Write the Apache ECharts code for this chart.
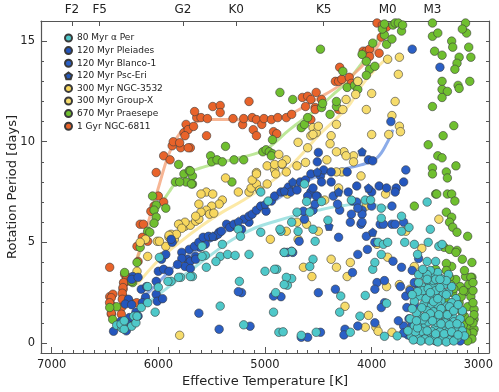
<!DOCTYPE html>
<html>
<head>
<meta charset="utf-8">
<script src="https://cdn.jsdelivr.net/npm/echarts@6/dist/echarts.min.js"></script>
<style>
  html, body { margin: 0; padding: 0; background: #fff; }
  #main { width: 499px; height: 392px; }
</style>
</head>
<body>
<div id="main"></div>
<script>
// spectral types on the top axis
const spTypes = ["F2", "F5", "G2", "K0", "K5", "M0", "M3"];
const spTeff = [6810, 6550, 5770, 5270, 4450, 3850, 3430];

const xTicks = [3000, 4000, 5000, 6000, 7000];
const yTicks = [0, 5, 10, 15];

const names = ["80 Myr α Per", "120 Myr Pleiades", "120 Myr Blanco-1", "120 Myr Psc-Eri",
  "300 Myr NGC-3532", "300 Myr Group-X", "670 Myr Praesepe", "1 Gyr NGC-6811"];

// [Teff, Prot]
const ngc6811 = [[6456,3.76],[6456,2.3],[6440,1.9],[6440,1.43],[6344,1.77],[6330,2.3],[6330,2.67],[6320,2.96],[6300,3.3],[6280,3.16],[6260,2.0],[6203,2.0],[6200,4.8],[6190,4.05],[6150,5.25],[6170,5.9],[6140,5.9],[6100,5.05],[6070,6.54],[6040,6.8],[6000,7.3],[5950,7.0],[6020,8.47],[5950,9.3],[5890,9.1],[5870,9.8],[5860,10.0],[5760,10.45],[5740,10.86],[5720,10.6],[5670,10.76],[5640,11.2],[5660,11.5],[5600,11.2],[5700,9.7],[5790,9.7],[5750,10.3],[5720,9.7],[5800,9.95],[5548,10.3],[5540,11.15],[5490,11.75],[5420,11.8],[5420,11.45],[5300,11.15],[5210,10.85],[5200,11.15],[5150,12.0],[5120,11.2],[5080,11.1],[5030,10.86],[5010,11.15],[5110,10.6],[5080,10.3],[4940,11.1],[4920,10.5],[4890,10.4],[4880,11.2],[4800,11.2],[4750,11.36],[4650,12.2],[4620,11.75],[4600,12.26],[4570,12.1],[4530,11.7],[4530,11.6],[4520,12.45],[4470,12.1],[4570,11.1],[4310,11.6],[4340,13.0],[4310,13.0],[4280,13.1],[4210,13.2],[4190,12.9],[4300,13.7],[4080,14.5],[4050,14.5],[4020,14.6],[4020,14.24],[3930,14.4],[3910,15.2],[3950,15.9],[3900,15.8],[3860,15.7],[6316,3.41],[6295,3.25],[6270,3.08],[6326,3.0],[6332,2.75],[6338,2.47],[6426,2.42],[6441,2.25],[6338,2.17],[6457,2.0],[6441,1.48],[6347,1.43]];

const praesepe = [[6316,3.5],[6240,3.0],[6390,1.8],[6428,1.17],[6456,1.76],[6250,3.06],[6054,7.3],[6020,6.85],[6040,6.6],[6020,6.25],[6040,5.95],[6100,5.55],[6080,5.5],[6170,4.75],[6200,4.0],[5930,6.7],[5810,8.87],[5760,8.4],[5710,8.57],[5680,8.3],[5740,8.0],[5840,8.0],[5680,7.9],[5800,8.0],[5700,8.55],[5690,7.9],[5370,9.77],[5510,9.3],[5500,9.0],[5450,9.1],[5400,9.0],[5290,9.1],[5200,9.1],[5310,8.0],[5020,9.5],[4990,9.6],[4930,10.1],[4960,9.5],[4930,9.4],[4940,9.3],[4860,12.45],[4740,12.1],[4660,10.7],[4630,10.86],[4600,11.2],[4470,11.7],[4460,11.9],[4390,11.36],[4330,11.75],[4330,12.0],[4270,13.5],[4230,12.7],[4160,12.8],[4130,13.0],[4130,12.6],[4090,14.34],[4050,14.0],[4020,13.6],[3970,13.75],[4050,13.3],[3990,14.9],[3880,15.3],[3860,14.84],[3810,15.1],[3900,15.6],[3880,15.85],[3800,15.8],[3780,15.9],[3750,15.9],[3720,15.5],[3710,15.8],[4480,14.6],
  [3430,15.24],[3380,15.4],[3410,14.5],[3340,14.3],[3250,15.0],[3240,14.7],[3180,14.2],[3200,13.9],[3220,13.6],[3340,13.0],[3340,12.6],[3290,12.5],[3340,12.2],[3190,12.8],[3180,12.65],[3430,11.75],[3230,10.8],[3330,10.3],[3470,9.85],[3380,9.3],[3340,9.2],[3210,8.8],[3430,8.7],[3430,8.4],[3300,8.5],[3290,8.2],[3400,7.4],[3290,7.4],[3390,7.4],[3250,7.4],[3220,7.05],[3600,6.8],[3300,6.5],[3250,6.25],[3270,6.0],[3240,5.75],[3200,5.5],[3100,5.3],[3320,4.75],[3270,4.65],[3200,4.6],[3210,4.5],[3150,4.16],[3400,3.66],[3250,3.8],[3300,3.95],[3060,3.26],[3120,3.3],[3430,15.9],[3120,15.9],[3110,15.4],[3090,14.7],[3150,15.6],[3070,14.2],[3080,13.0],
  [3210,3.15],[3070,3.26],[3170,2.8],[3120,2.56],[3240,2.5],[3070,2.3],[3180,2.0],[3100,1.8],[3040,1.67],[3130,1.33],[3040,1.18],[3100,0.84],[3040,0.68],[3170,0.53],[3070,0.33],[3400,1.0],[3370,0.6],[3230,0.18],[3270,3.26],[3260,2.9],[3230,2.7],[3050,2.0],[3050,1.0],[3050,0.5],[3150,1.5],[3200,1.1],[3140,0.9],[3180,0.4],[3090,2.9],[3050,2.6],[3160,2.3],[3280,1.6],[3260,1.2],[3220,0.8],[3060,0.2],[3100,0.1],[3300,2.1],[3050,3.0],[3130,3.6],[3060,4.0],[3040,1.4],[3080,1.1],[3110,0.5],[3200,1.7],[3250,0.5],[3140,2.6],[3300,3.6]];

const ngc3532 = [[5800,5.9],[5750,5.8],[5700,5.85],[5650,6.05],[5620,6.15],[5880,5.4],[5900,5.25],[5850,5.15],[6010,5.05],[5930,4.8],[6100,4.3],[6200,3.56],[6120,5.15],[6170,5.0],[5550,7.5],[5370,8.2],[5600,7.4],[5490,7.4],[5400,7.1],[5430,6.9],[5500,6.8],[5550,6.6],[5600,6.5],[5650,6.3],[5520,6.4],[5480,6.45],[5620,6.9],[5750,6.0],[5810,5.9],[5780,5.7],[5830,5.4],[5900,5.35],[5990,5.05],[5960,4.3],[5250,7.5],[5150,7.5],[5130,7.7],[5080,7.9],[5050,7.6],[4980,7.9],[5120,8.1],[5080,8.4],[4980,8.8],[4910,8.87],[4840,8.9],[4900,8.4],[4800,8.5],[4700,8.8],[4950,5.15],[4640,3.76],[4800,5.55],[4560,3.3]];

const groupX = [[5080,8.47],[4910,8.6],[4840,8.87],[4870,9.37],[4800,9.1],[4690,9.97],[4600,9.7],[4550,10.7],[4520,10.45],[4570,10.3],[4500,10.77],[4380,10.3],[4330,10.86],[4270,11.6],[4240,12.1],[4150,12.35],[4130,13.0],[4050,11.6],[4000,12.4],[3850,14.1],[3740,14.2],[3750,13.35],[3780,12.0],[3810,11.3],[3740,10.77],[3730,10.5],[3840,10.36],[4100,8.3],[4170,9.3],[4260,9.5],[4280,8.5],[4390,9.9],[4330,9.5],[4420,9.1],[4240,9.3],[4170,9.0],[4330,8.5],[4000,10.36],[4550,10.36],[4620,8.97],[4310,7.7],[4440,7.1],[4050,6.8],[3870,7.4],[3680,5.55],[4610,5.9],[4790,7.4],[4700,6.0],[4500,5.55],[4690,5.15],[4380,4.16],[4330,3.76],[4200,4.0],[4230,3.3],[4250,1.82],[4030,1.37],[4060,0.78],[3860,2.8],[3950,4.9],[3850,4.26],[3600,3.8],[3640,2.67],[3530,4.7],[3450,3.56],[3370,6.15],[3960,0.78],[3810,0.53],[5800,0.38],[3740,2.9],[3940,0.58]];

const pleiades = [[6240,3.3],[6280,2.17],[6310,1.93],[6250,1.9],[6260,1.13],[6350,0.93],[6420,0.58],[6300,0.6],[6250,3.16],[6190,3.26],[6160,2.67],[6110,2.8],[6020,3.06],[6000,3.56],[5950,3.66],[5970,4.16],[5930,4.4],[5870,5.0],[5780,4.5],[5730,4.16],[5700,4.06],[5650,4.3],[5610,4.75],[5560,4.9],[5510,5.25],[5470,5.3],[5430,5.5],[5310,5.8],[5220,5.65],[5150,6.0],[6020,2.42],[6010,2.07],[5960,2.2],[6120,2.27],[6150,2.0],[6210,1.53],[6190,1.33],[6270,1.26],[6350,1.08],[6300,1.0],[5880,5.15],[5710,4.65],[5660,4.8],[5620,5.0],[5580,5.25],[5530,5.3],[5440,5.4],[5410,5.55],[5360,5.9],[5330,5.74],[5290,5.9],[5200,6.15],[5150,6.3],[5120,6.4],[5080,6.6],[5040,6.8],[4990,6.55],[4940,7.05],[4910,7.3],[4850,7.5],[4780,7.75],[4670,8.0],[4620,8.1],[4570,8.4],[4480,8.3],[4450,8.6],[4380,8.5],[4570,7.5],[4520,7.3],[4760,7.5],[4700,7.6],[5650,4.16],[5780,4.2],[5750,3.8],[5700,3.7],[5820,3.9],[5900,3.56],[4500,9.47],[4510,9.0],[4230,8.5],[4030,9.1],[3990,9.05],[4380,8.0],[4470,8.0],[4550,7.7],[4600,7.3],[4220,7.5],[4140,7.8],[4000,7.5],[3930,7.8],[3860,7.7],[3770,7.7],[3780,7.5],[3700,8.0]];

const blanco1 = [[5620,1.48],[5430,0.68],[5220,2.5],[5140,0.83],[4680,5.05],[4630,6.15],[4550,6.6],[4790,4.5],[4740,4.5],[5250,2.55],[4850,2.3],[4500,2.5],[3680,8.6],[3820,11.0],[3620,14.6],[3360,13.7],[4180,7.05],[4140,7.0],[4090,6.6],[4090,6.4],[4130,6.7],[4000,6.8],[3810,6.8],[4300,6.6],[4200,6.0],[4100,5.9],[3920,5.9],[3810,5.9],[4640,6.55],[4820,4.5],[4750,4.55],[4920,2.33],[4510,7.3],[4530,6.9],[4360,7.3],[4320,6.9],[4310,5.25],[4190,6.4],[4090,6.0],[3890,5.9],[3780,5.9],[4050,5.3],[4130,4.4],[4040,4.65],[3970,5.0],[3950,3.0],[3970,2.67],[3880,3.1],[3800,4.06],[3720,3.76],[3730,2.8],[3680,2.33],[3670,1.76],[3700,0.84],[3880,2.0],[3910,1.76],[3970,1.0],[4180,3.5],[4660,0.28],[4600,0.28],[4480,0.53],[4250,0.68],[4260,0.4],[4130,0.84],[4340,2.67],[3700,6.0],[3650,1.2],[3660,0.4],[3620,0.9],[3600,1.9],[3640,2.6],[3700,0.5],[3570,2.9],[3580,0.2],[3400,0.1],[3170,0.1],[3600,3.0],[3750,1.1],[3620,3.6],[3560,4.2]];

const pscEri = [[5250,6.04],[5000,6.9],[4740,8.0],[4510,8.5],[4310,7.5],[4030,7.7],[4400,5.8],[3990,5.5],[5490,5.3],[4820,7.55],[4090,9.5]];

const aPer = [[3460,3.0],[3480,2.42],[3400,2.33],[3510,1.93],[3440,1.83],[3370,1.67],[3300,1.83],[3550,1.33],[3460,1.33],[3380,1.26],[3300,1.18],[3240,1.3],[3500,0.84],[3400,0.78],[3320,0.78],[3240,0.78],[3550,0.33],[3460,0.33],[3390,0.28],[3310,0.33],[3240,0.33],[3170,0.84],[3600,0.84],[3630,0.33],[3580,1.5],[3550,2.33],[3530,2.8],[3420,2.85],[3600,2.07],[3350,2.1],[3280,2.5],[3320,2.9],[3520,2.6],[3440,2.15],[3380,1.9],[3480,1.6],[3420,1.55],[3340,1.45],[3260,1.55],[3560,1.05],[3470,1.05],[3390,1.02],[3310,1.0],[3230,1.05],[3530,0.58],[3440,0.58],[3360,0.55],[3280,0.55],[3200,0.58],[3590,0.55],[3500,0.2],[3420,0.15],[3340,0.15],[3270,0.15],[3200,0.25],[3150,0.6],[3170,1.2],[3210,2.2],[3250,2.0],[3410,3.3],[3350,3.2],[3500,3.3],[3560,3.0],[3640,1.2],[3620,1.7],[3660,0.6],[3150,1.6],[3130,0.35],[3280,3.4],[3380,3.5],[3450,3.6],[3330,2.5],[3470,2.7],[3520,3.6],[3400,2.6],
  [3570,2.55],[3490,2.2],[3420,2.05],[3350,1.7],[3270,1.8],[3530,1.75],[3450,1.45],[3370,1.4],[3290,1.4],[3520,1.15],[3430,1.1],[3350,0.95],[3270,0.9],[3200,0.95],[3570,0.75],[3480,0.6],[3400,0.45],[3320,0.45],[3250,0.55],[3540,0.1],[3460,0.1],[3380,0.05],[3300,0.05],[3230,0.1],[3610,0.15],[3580,1.1],[3500,1.3],[3450,2.5],[3380,2.2],[3300,2.4],[3250,2.8],[3360,2.75],[3420,3.1],[3480,3.4],[3560,3.4],[3300,3.1],[3230,1.6],[3190,1.9],[3190,0.4],[3620,2.4],
  [3720,6.3],[3480,7.0],[3450,5.65],[3470,5.0],[3600,4.9],[3570,4.4],[3370,4.8],[3340,4.9],[3480,4.05],[3400,4.05],[3520,3.66],[3480,3.16],[3400,3.16],[3360,3.16],[3690,5.0],[3720,5.55],[3650,5.74],
  [5000,3.56],[4890,3.66],[4920,1.53],[4790,2.87],[4750,3.2],[4870,0.53],[4830,0.55],[4660,0.38],[4520,0.53],[4300,1.53],[4290,2.33],[4200,0.53],[4110,1.33],[4060,2.36],[3990,3.66],[3970,4.0],[3940,5.0],[3890,4.9],[3850,5.0],[3910,4.4],[3860,1.97],[3880,0.33],[3760,0.35],[4060,7.1],[4010,7.1],[4750,6.0],[4850,5.55],
  [5040,7.5],[4970,7.05],[5250,5.65],[5230,5.3],[5040,5.5],[5420,4.3],[5350,4.4],[5280,4.35],[5150,4.4],[5560,4.35],[5460,4.05],[5680,3.3],[5790,3.26],[5880,3.06],[5590,4.8],[5400,4.9],[4860,5.65],[4550,5.65],[4470,7.03],[4580,6.5],[4530,5.05],[4550,4.16],[4580,3.8],[4750,4.55],[4820,4.5],[4910,3.66],[4800,3.26],[4820,2.9],[4900,2.5],[4630,7.9],[4610,7.03],[4190,7.1],[4700,6.5],[4410,6.1],[4690,5.55],[3910,6.7],[3910,6.2],
  [5990,4.25],[6100,2.8],[5810,3.26],[5700,3.3],[5590,4.3],[6390,0.88],[6340,0.73],[6330,0.98],[6250,0.83],[6230,1.33],[6350,0.93],[6320,0.68],[6320,1.1],[6210,1.0],[6200,1.33],[6160,1.76],[6100,2.0],[6030,1.53],[6000,2.77],[5910,3.06],[5550,3.76],[5240,3.06],[5420,1.83],[5200,0.9]];

// gyrochrone sequences
const aPerCurve = [[6100,2.0],[5900,2.8],[5700,3.6],[5500,4.4],[5300,5.15],[5100,5.7],[4900,6.05],[4700,6.35],[4500,6.6],[4300,6.8],[4100,6.9],[3950,6.85],[3800,6.65]];
const pleiadesCurve = [[6150,2.2],[6000,3.0],[5850,3.8],[5700,4.4],[5500,5.1],[5300,5.8],[5100,6.5],[4900,7.1],[4700,7.8],[4500,8.3],[4300,8.6],[4100,8.85],[3950,9.2],[3850,10.0],[3800,10.6]];
const ngc3532Curve = [[6200,2.9],[6000,4.1],[5800,5.0],[5600,5.8],[5400,6.5],[5200,7.1],[5000,7.8],[4800,8.6],[4650,9.4],[4500,10.3],[4340,11.1],[4200,11.9],[4100,12.75],[4000,13.4],[3870,14.1]];
const praesepeCurve = [[6200,4.15],[6100,5.5],[6020,6.5],[5900,7.5],[5830,8.0],[5700,8.5],[5570,8.75],[5400,9.0],[5200,9.25],[5000,9.6],[4770,10.6],[4520,11.6],[4350,12.4],[4210,13.1],[4000,14.6],[3870,15.8]];
const ngc6811Curve = [[6200,4.2],[6100,5.9],[6000,7.7],[5900,9.4],[5800,10.4],[5700,10.8],[5550,11.1],[5300,11.1],[5100,11.05],[4900,11.15],[4770,11.35],[4520,12.1],[4300,12.8],[4100,13.7],[3950,14.7],[3860,15.6]];

const minorX = [];
for (let t = 2900; t <= 7100; t += 100) minorX.push(t);
const minorY = [];
for (let p = 0; p <= 16; p += 1) minorY.push(p);

const font = "DejaVu Sans";
const axisCol = "#555";
const pentagon = "path://M0,-1L0.951,-0.309L0.588,0.809L-0.588,0.809L-0.951,-0.309Z";

const main = document.getElementById("main");
const myChart = echarts.init(main);

function dots(name, data, color, symbol) {
  return {
    name: name,
    type: "scatter",
    data: data,
    symbol: symbol || "circle",
    symbolSize: 8.5,
    itemStyle: { color: color, borderColor: "#3a3a3a", borderWidth: 0.6, opacity: 1 },
    z: 3
  };
}
function curve(data, color) {
  return {
    type: "line",
    data: data,
    smooth: 0.4,
    symbol: "none",
    lineStyle: { color: color, width: 3, opacity: 0.8 },
    silent: true,
    z: 2
  };
}

const xBase = { type: "value", min: 2900, max: 7100, inverse: true, splitLine: { show: false } };
const yBase = { type: "value", min: -0.5, max: 16, splitLine: { show: false } };

const option = {
  backgroundColor: "#fff",
  animation: false,
  textStyle: { fontFamily: font },
  grid: { left: 41, right: 10, top: 21, bottom: 39, containLabel: false, outerBoundsMode: "none" },
  legend: {
    data: names,
    orient: "vertical",
    left: 59,
    top: 28,
    itemWidth: 7,
    itemHeight: 7,
    itemGap: 2.6,
    textStyle: { fontSize: 9, color: "#222", fontFamily: font, lineHeight: 10 }
  },
  xAxis: [
    Object.assign({}, xBase, {
      position: "bottom",
      name: "Effective Temperature [K]",
      nameLocation: "middle",
      nameGap: 22,
      nameMoveOverlap: false,
      nameTextStyle: { fontSize: 13, color: "#222", fontFamily: font },
      axisLine: { show: true, onZero: false, lineStyle: { color: axisCol, width: 1.2 } },
      axisTick: { show: true, inside: true, length: 6, customValues: xTicks, lineStyle: { color: axisCol } },
      axisLabel: { customValues: xTicks, fontSize: 11.5, color: "#222", margin: 6, fontFamily: font, formatter: v => String(v) }
    }),
    Object.assign({}, xBase, {
      position: "bottom",
      axisLine: { show: false, onZero: false },
      axisTick: { show: true, inside: true, length: 3, customValues: minorX, lineStyle: { color: axisCol } },
      axisLabel: { show: false }
    }),
    Object.assign({}, xBase, {
      position: "top",
      axisLine: { show: true, onZero: false, lineStyle: { color: axisCol, width: 1.2 } },
      axisTick: { show: true, inside: true, length: 5, customValues: spTeff, lineStyle: { color: axisCol } },
      axisLabel: {
        customValues: spTeff,
        fontSize: 12,
        color: "#222",
        margin: 5,
        fontFamily: font,
        formatter: v => spTypes[spTeff.indexOf(v)] || ""
      }
    })
  ],
  yAxis: [
    Object.assign({}, yBase, {
      position: "left",
      name: "Rotation Period [days]",
      nameLocation: "middle",
      nameGap: 22,
      nameMoveOverlap: false,
      nameTextStyle: { fontSize: 13, color: "#222", fontFamily: font },
      axisLine: { show: true, onZero: false, lineStyle: { color: axisCol, width: 1.2 } },
      axisTick: { show: true, inside: true, length: 6, customValues: yTicks, lineStyle: { color: axisCol } },
      axisLabel: { customValues: yTicks, fontSize: 11.5, color: "#222", margin: 6, fontFamily: font }
    }),
    Object.assign({}, yBase, {
      position: "left",
      axisLine: { show: false, onZero: false },
      axisTick: { show: true, inside: true, length: 3, customValues: minorY, lineStyle: { color: axisCol } },
      axisLabel: { show: false }
    }),
    Object.assign({}, yBase, {
      position: "right",
      axisLine: { show: true, onZero: false, lineStyle: { color: axisCol, width: 1.2 } },
      axisTick: { show: true, inside: true, length: 3, customValues: minorY, lineStyle: { color: axisCol } },
      axisLabel: { show: false }
    })
  ],
  series: [
    curve(aPerCurve, "#8fdcdc"),
    curve(pleiadesCurve, "#6f97e3"),
    curve(ngc3532Curve, "#fbe490"),
    curve(praesepeCurve, "#ace27f"),
    curve(ngc6811Curve, "#f5a47a"),
    dots(names[7], ngc6811, "#e8632a"),
    dots(names[6], praesepe, "#6fbf2f"),
    dots(names[5], groupX, "#f6dc6c"),
    dots(names[4], ngc3532, "#f7d75e"),
    dots(names[2], blanco1, "#2b60c6"),
    dots(names[1], pleiades, "#2456bd"),
    dots(names[3], pscEri, "#2558b8", pentagon),
    dots(names[0], aPer, "#4ec8c9")
  ]
};

option && myChart.setOption(option);
</script>
</body>
</html>
